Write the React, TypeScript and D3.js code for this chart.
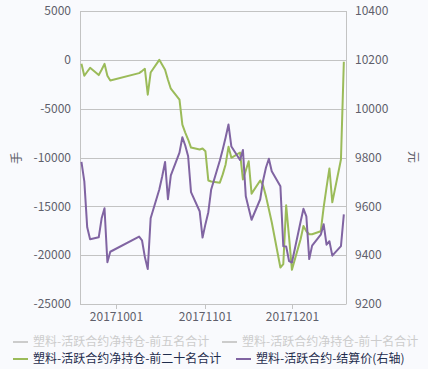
import React from 'react';
import * as d3 from 'd3';

const dates = [
  '2017-09-19', '2017-09-20', '2017-09-21', '2017-09-22', '2017-09-25', '2017-09-26', '2017-09-27', '2017-09-28', '2017-09-29',
  '2017-10-09', '2017-10-10', '2017-10-11', '2017-10-12', '2017-10-13',
  '2017-10-16', '2017-10-17', '2017-10-18', '2017-10-19', '2017-10-20',
  '2017-10-23', '2017-10-24', '2017-10-25', '2017-10-26', '2017-10-27',
  '2017-10-30', '2017-10-31', '2017-11-01', '2017-11-02', '2017-11-03',
  '2017-11-06', '2017-11-07', '2017-11-08', '2017-11-09', '2017-11-10',
  '2017-11-13', '2017-11-14', '2017-11-15', '2017-11-16', '2017-11-17',
  '2017-11-20', '2017-11-21', '2017-11-22', '2017-11-23', '2017-11-24',
  '2017-11-27', '2017-11-28', '2017-11-29', '2017-11-30', '2017-12-01',
  '2017-12-04', '2017-12-05', '2017-12-06', '2017-12-07', '2017-12-08',
  '2017-12-11', '2017-12-12', '2017-12-13', '2017-12-14', '2017-12-15',
  '2017-12-18', '2017-12-19',
];

// 前二十名合计 (left axis, 手)
const netTop20 = [
  -410, -1630, -1220, -820, -1560, -1020, -410, -1630, -2110,
  -1360, -1150, -920, -3570, -1300,
  0, -510, -1020, -2040, -2960,
  -4080, -6630, -7450, -8160, -8980,
  -9180, -9080, -9360, -12350, -12450,
  -12580, -11730, -10710, -8910, -10030,
  -9490, -12240, -11330, -10380, -13700,
  -12350, -12860, -13980, -15300, -16630,
  -21260, -20920, -14900, -18160, -21500,
  -18370, -17010, -17550, -17860, -17860,
  -17550, -15100, -13060, -11120, -14590,
  -10200, -200,
];

// 结算价 (right axis, 元)
const settle = [
  9782, 9702, 9514, 9465, 9473, 9551, 9592, 9371, 9414,
  9476, 9461, 9392, 9343, 9551,
  9669, 9722, 9782, 9629, 9727,
  9820, 9883, 9849, 9805, 9658,
  9580, 9472, 9527, 9576, 9669,
  9788, 9833, 9882, 9935, 9845,
  9790, 9831, 9641, 9592, 9545,
  9629, 9706, 9759, 9795, 9744,
  9682, 9437, 9436, 9376, 9370,
  9537, 9590, 9559, 9384, 9439,
  9484, 9527, 9443, 9457, 9398,
  9437, 9567,
];

const leftTicks = [5000, 0, -5000, -10000, -15000, -20000, -25000];
const rightTicks = [10400, 10200, 10000, 9800, 9600, 9400, 9200];
const xTicks = ['2017-10-01', '2017-11-01', '2017-12-01'];

const legendItems = [
  { name: '塑料-活跃合约净持仓-前五名合计', color: '#cccccc', text: '#cccccc', x: 13, row: 0 },
  { name: '塑料-活跃合约净持仓-前十名合计', color: '#cccccc', text: '#cccccc', x: 222, row: 0 },
  { name: '塑料-活跃合约净持仓-前二十名合计', color: '#9bbb59', text: '#1f2d4d', x: 13, row: 1 },
  { name: '塑料-活跃合约-结算价(右轴)', color: '#8064a2', text: '#1f2d4d', x: 236, row: 1 },
];

const W = 428;
const H = 369;
const FONT = '"Noto Sans CJK SC", "Microsoft YaHei", sans-serif';

const parse = d3.timeParse('%Y-%m-%d');

export default function App() {
  const left = 80;
  const right = 346;
  const top = 11;
  const bottom = 304;

  const x = d3.scaleTime()
    .domain([new Date(2017, 8, 18, 12), new Date(2017, 11, 19, 18)])
    .range([left, right]);
  const yL = d3.scaleLinear().domain([-25000, 5000]).range([bottom, top]);
  const yR = d3.scaleLinear().domain([9200, 10400]).range([bottom, top]);

  const pts = dates.map((d, i) => ({ date: parse(d) as Date, net: netTop20[i], price: settle[i] }));

  const netLine = d3.line<any>().x(d => x(d.date)).y(d => yL(d.net));
  const priceLine = d3.line<any>().x(d => x(d.date)).y(d => yR(d.price));

  const axisColor = '#c3c3c3';
  const labelColor = '#5f5f6b';

  return (
    <svg width={W} height={H} style={{ position: 'fixed', left: 0, top: 0, display: 'block' }} fontFamily={FONT}>
      <rect width={W} height={H} fill="#f9fafd" />

      {leftTicks.map(t => (
        <line key={t} x1={left} x2={right} y1={Math.round(yL(t)) + 0.5} y2={Math.round(yL(t)) + 0.5} stroke={axisColor} strokeWidth={1} />
      ))}
      <line x1={left + 0.5} x2={left + 0.5} y1={top} y2={bottom + 0.5} stroke={axisColor} />
      <line x1={right + 0.5} x2={right + 0.5} y1={top} y2={bottom + 0.5} stroke={axisColor} />

      {xTicks.map(t => {
        const xx = Math.round(x(parse(t) as Date)) + 0.5;
        return (
          <g key={t}>
            <line x1={xx} x2={xx} y1={bottom} y2={bottom + 5} stroke={axisColor} />
            <text x={xx} y={321} textAnchor="middle" fontSize={12} fill={labelColor}>{t.replace(/-/g, '')}</text>
          </g>
        );
      })}

      {leftTicks.map(t => (
        <text key={t} x={71} y={yL(t)} dy="0.35em" textAnchor="end" fontSize={12} fill={labelColor}>{t}</text>
      ))}
      {rightTicks.map(t => (
        <text key={t} x={355} y={yR(t)} dy="0.35em" textAnchor="start" fontSize={12} fill={labelColor}>{t}</text>
      ))}

      <text transform="translate(17,158) rotate(-90)" textAnchor="middle" dy="0.35em" fontSize={12} fill={labelColor}>手</text>
      <text transform="translate(413,157) rotate(90)" textAnchor="middle" dy="0.35em" fontSize={12} fill={labelColor}>元</text>

      <path d={netLine(pts) || ''} fill="none" stroke="#9bbb59" strokeWidth={2} strokeLinejoin="round" />
      <path d={priceLine(pts) || ''} fill="none" stroke="#8064a2" strokeWidth={2} strokeLinejoin="round" />

      {legendItems.map(item => {
        const cy = item.row === 0 ? 342 : 359;
        return (
          <g key={item.name}>
            <line x1={item.x} x2={item.x + 15} y1={cy} y2={cy} stroke={item.color} strokeWidth={2} />
            <text x={item.x + 20} y={cy} dy="0.35em" fontSize={12} fill={item.text}>{item.name}</text>
          </g>
        );
      })}
    </svg>
  );
}
